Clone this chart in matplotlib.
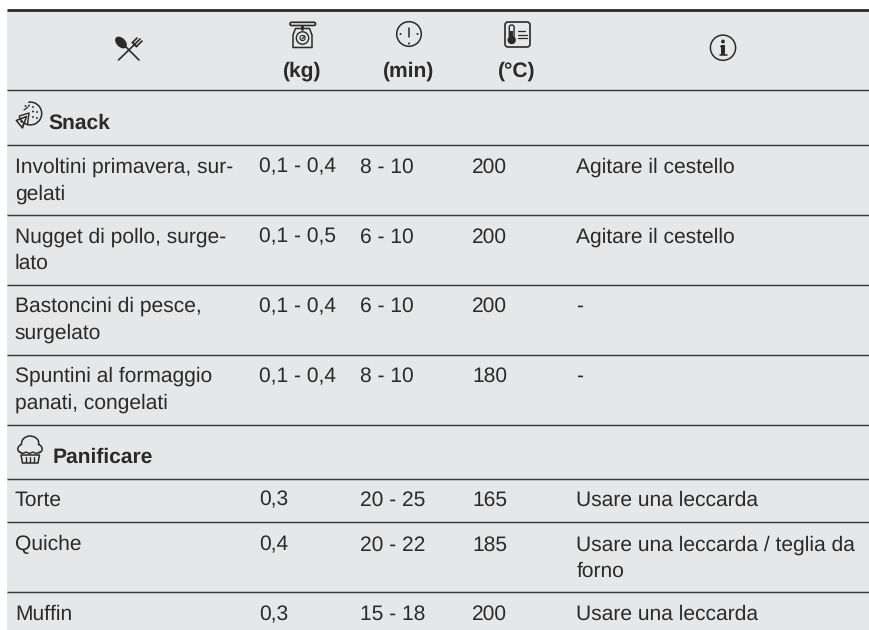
import matplotlib
matplotlib.use("Agg")
import matplotlib.pyplot as plt
from matplotlib.patches import Circle, Rectangle, FancyBboxPatch, Polygon, Ellipse, Arc
from matplotlib.path import Path
from matplotlib.patches import PathPatch

plt.rcParams['font.family'] = ['Liberation Sans', 'DejaVu Sans']
plt.rcParams['text.hinting'] = 'no_hinting'
plt.rcParams['text.hinting_factor'] = 1

# ---- table content ----
col_x = [14.8, 259.3, 360.3, 472, 576.5]
units = ["(kg)", "(min)", "(°C)"]
unit_x = [302, 408.5, 517]
section_names = ["Snack", "Panificare"]
snack_food = [["Involtini primavera, sur-", "gelati"], ["Nugget di pollo, surge-", "lato"],
              ["Bastoncini di pesce,", "surgelato"], ["Spuntini al formaggio", "panati, congelati"]]
snack_qty = ["0,1 - 0,4", "0,1 - 0,5", "0,1 - 0,4", "0,1 - 0,4"]
snack_time = ["8 - 10", "6 - 10", "6 - 10", "8 - 10"]
snack_temp = ["200", "200", "200", "180"]
snack_note = [["Agitare il cestello"], ["Agitare il cestello"], ["-"], ["-"]]
bake_food = [["Torte"], ["Quiche"], ["Muffin"]]
bake_qty = ["0,3", "0,4", "0,3"]
bake_time = ["20 - 25", "20 - 22", "15 - 18"]
bake_temp = ["165", "185", "200"]
bake_note = [["Usare una leccarda"], ["Usare una leccarda / teglia da", "forno"], ["Usare una leccarda"]]
rules_y = [90.3, 144.7, 214.7, 285, 355, 425, 479, 522, 592.3]
snack_base = [172.7, 242.3, 312, 382]
bake_base = [505.7, 550.3, 620]

BG = "#e6e7e8"
INK = "#2b2a29"
FS = 15.45
LEAD = 26.7

fig = plt.figure(figsize=(8.7, 6.3), dpi=100, facecolor="white")
ax = fig.add_axes([0, 0, 1, 1])
ax.set_xlim(0, 870)
ax.set_ylim(630, 0)
ax.axis("off")

ax.add_patch(Rectangle((7, 10), 863, 620, fc=BG, ec="none", zorder=0))
ax.plot([7, 870], [9.7, 9.7], color=INK, lw=2.0, solid_capstyle="butt")
for y in rules_y:
    ax.plot([7, 870], [y, y], color="#3a3a3a", lw=1.05, solid_capstyle="butt")


def put(x, y, s, bold=False, ha="left"):
    ax.text(x, y, s, fontsize=FS, color=INK, ha=ha, va="baseline",
            fontweight="bold" if bold else "normal")


def rows(bases, food, qty, tim, temp, note):
    for b, f, q, t, c, n in zip(bases, food, qty, tim, temp, note):
        for i, s in enumerate(f):
            put(col_x[0], b + i * LEAD, s)
        put(col_x[1], b, q)
        put(col_x[2], b, t)
        put(col_x[3], b, c)
        for i, s in enumerate(n):
            put(col_x[4], b + i * LEAD, s)


for x, u in zip(unit_x, units):
    put(x, 77, u, bold=True, ha="center")
put(48, 129, section_names[0], bold=True)
put(53, 462.7, section_names[1], bold=True)
rows(snack_base, snack_food, snack_qty, snack_time, snack_temp, snack_note)
rows(bake_base, bake_food, bake_qty, bake_time, bake_temp, bake_note)

# ---- icons ----
K = dict(color=INK, solid_capstyle="round")


def ln(xs, ys, lw=1.1):
    ax.plot(xs, ys, lw=lw, **K)


def ring(x, y, r, lw=1.1):
    ax.add_patch(Circle((x, y), r, fc="none", ec=INK, lw=lw))


def dot(x, y, r):
    ax.add_patch(Circle((x, y), r, fc=INK, ec="none"))


# cutlery
ax.add_patch(Ellipse((121, 42.5), 14, 9, angle=45, fc=INK, ec="none"))
ln([122, 139], [43, 60], 1.2)
ln([118.5, 134.5], [60, 44.5], 1.2)
ln([132.5, 136.5], [42.5, 46.5], 1.4)
ln([132.5, 137], [42.5, 38], 1.2)
ln([134.5, 140], [44.5, 39], 1.2)
ln([136.5, 142], [46.5, 41], 1.2)

# scale
ax.add_patch(FancyBboxPatch((290, 22.3), 25.5, 3.2, boxstyle="round,pad=0,rounding_size=1.5", fc="none", ec=INK, lw=1.2))
ln([302.5, 302.5], [25.5, 29], 2.0)
ax.add_patch(Polygon([(295.5, 28.5), (309.5, 28.5), (312, 35), (312, 47.5), (293, 47.5), (293, 35)],
                     closed=True, fc="none", ec=INK, lw=1.1, joinstyle="round"))
ring(302.5, 38, 6.2, 1.0)
ring(302.5, 38, 2.6, 0.8)
ln([302, 305], [39, 36], 0.9)

# clock
ring(409, 34, 12.3, 1.1)
ln([409, 409], [27.5, 37], 1.1)
dot(400.5, 34, 1.0)
dot(417.5, 34, 1.0)
dot(409, 43.5, 1.0)

# thermometer box
ax.add_patch(FancyBboxPatch((505, 22), 25, 25, boxstyle="round,pad=0,rounding_size=3", fc="none", ec=INK, lw=1.2))
dot(511.7, 40, 4.2)
ax.add_patch(FancyBboxPatch((509.3, 25), 4.8, 13, boxstyle="round,pad=0,rounding_size=2.2", fc="none", ec=INK, lw=1.0))
ax.add_patch(Rectangle((510.5, 31), 2.4, 7, fc=INK, ec="none"))
ln([518, 525], [30.5, 30.5], 0.9)
ln([518, 527], [34.5, 34.5], 0.9)
ln([518, 527], [38, 38], 0.9)

# info
ring(723, 47.7, 12.6, 1.1)
dot(723, 41.5, 1.9)
ax.add_patch(Rectangle((721, 45), 4, 10, fc=INK, ec="none"))
ln([719.8, 721.5], [45.5, 45.5], 0.9)
ln([719.8, 726.8], [55, 55], 1.1)

# pizza
ax.add_patch(Arc((30.3, 113.5), 22.8, 22.8, theta1=-100, theta2=165, color=INK, lw=1.1))
ln([19.3, 29, 27.5], [116, 113, 124.7], 1.0)
ln([24, 28], [110, 107], 0.9)
for p in [(29, 105.5), (33, 107), (37, 112), (33, 117), (25.5, 106), (37, 118), (33, 111.5)]:
    dot(p[0], p[1], 0.95)
ax.add_patch(Polygon([(16.3, 120.5), (26.5, 116.5), (22.5, 128)], closed=True, fc="none", ec=INK, lw=1.1, joinstyle="round"))
dot(21.5, 121.5, 1.1)
dot(22.8, 125, 0.8)

# muffin
verts = [(22, 453), (16, 452), (17, 446), (21.5, 444.5), (21, 439), (26, 436), (30, 436),
         (34, 436), (40, 439), (38.5, 444.5), (43, 446), (44, 452), (38, 453)]
codes = [Path.MOVETO] + [Path.CURVE4] * 12
ax.add_patch(PathPatch(Path(verts, codes), fc="none", ec=INK, lw=1.1))
ln([20, 23, 26, 29.5, 33, 36, 40], [452, 453.5, 452, 453.5, 452, 453.5, 452], 1.0)
ax.add_patch(Polygon([(21, 455), (39.5, 455), (38, 463), (22.5, 463)], closed=True, fc="none", ec=INK, lw=1.1))
for x in (26, 30, 34):
    ln([x, x], [456.5, 461.5], 1.0)

fig.savefig("out.png", dpi=100, facecolor="white")
